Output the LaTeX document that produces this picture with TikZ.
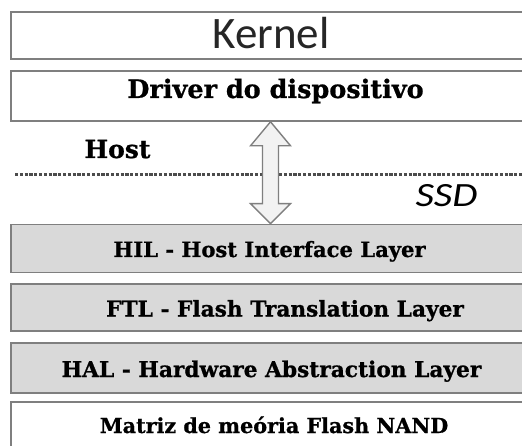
\documentclass[tikz,border=0pt]{standalone}
\usepackage{fontspec}
\setmainfont[BoldFeatures={FakeBold=0.8}]{DejaVu Serif}
\newfontfamily\calib{Carlito}
\newfontfamily\calibwide[FakeStretch=1.2]{Carlito}
\usetikzlibrary{calc}
\definecolor{edge}{HTML}{7F7F7F}
\definecolor{ssdfill}{HTML}{D9D9D9}
\definecolor{arrowfill}{HTML}{F2F2F2}
\tikzset{
  layer/.style={draw=edge, line width=1.6pt, minimum width=519pt, inner sep=0pt},
  lbl/.style={text=black, inner sep=0pt, anchor=base},
}
\begin{document}
\begin{tikzpicture}[x=1pt,y=-1pt]
\useasboundingbox (0,0) rectangle (522,446);
\fill[white] (0,0) rectangle (522,446);

% host side
\node[layer, minimum height=47pt, fill=white] (kernel) at (270.5,35.5) {};
\node[inner sep=0pt, anchor=base, text=black!85] (kerneltxt) at (271,49) {\calib\fontsize{45}{45}\selectfont Kernel};
\node[layer, minimum height=50pt, fill=white] (drv) at (270.5,96) {};
\node[lbl, font=\bfseries\fontsize{25.5}{25.5}\selectfont] (drvtxt) at (275.5,98) {Driver do dispositivo};

\node[lbl, font=\bfseries\fontsize{25}{25}\selectfont] (host) at (117.5,158) {Host};

% boundary between host and SSD
\coordinate (dl) at (15,174.5);
\coordinate (dr) at (522,174.5);
\draw[black!70, line width=2.6pt, dash pattern=on 3.2pt off 1.6pt] (dl) -- (dr);

\node[inner sep=0pt, anchor=base] (ssd) at (446.5,207) {\calibwide\itshape\fontsize{34}{34}\selectfont SSD};

% SSD layers
\node[layer, minimum height=48pt, fill=ssdfill] (hil) at (270.5,248.5) {};
\node[lbl, font=\bfseries\fontsize{21.1}{21.1}\selectfont] (hiltxt) at (269.5,257) {HIL - Host Interface Layer};
\node[layer, minimum height=47pt, fill=ssdfill] (ftl) at (270.5,307.5) {};
\node[lbl, font=\bfseries\fontsize{21.7}{21.7}\selectfont] (ftltxt) at (285,316.5) {FTL - Flash Translation Layer};
\node[layer, minimum height=50pt, fill=ssdfill] (hal) at (270.5,368) {};
\node[lbl, font=\bfseries\fontsize{21.7}{21.7}\selectfont] (haltxt) at (271.5,377) {HAL - Hardware Abstraction Layer};
\node[layer, minimum height=60pt, fill=white] (nand) at (270.5,432) {};
\node[lbl, font=\bfseries\fontsize{20.7}{20.7}\selectfont] (nandtxt) at (274,433) {Matriz de meória Flash NAND};

% double-headed arrow linking driver and HIL
\coordinate (at) at (drv.south -| 270.5,0);
\coordinate (ab) at (hil.north -| 270.5,0);
\draw[edge, line width=1.4pt, fill=arrowfill, line join=miter]
  (at) -- ($(at)+(20,24)$) -- ($(at)+(8,24)$) -- ($(ab)+(8,-20)$) -- ($(ab)+(20,-20)$)
  -- (ab) -- ($(ab)+(-20,-20)$) -- ($(ab)+(-8,-20)$) -- ($(at)+(-8,24)$) -- ($(at)+(-20,24)$) -- cycle;
\end{tikzpicture}
\end{document}
